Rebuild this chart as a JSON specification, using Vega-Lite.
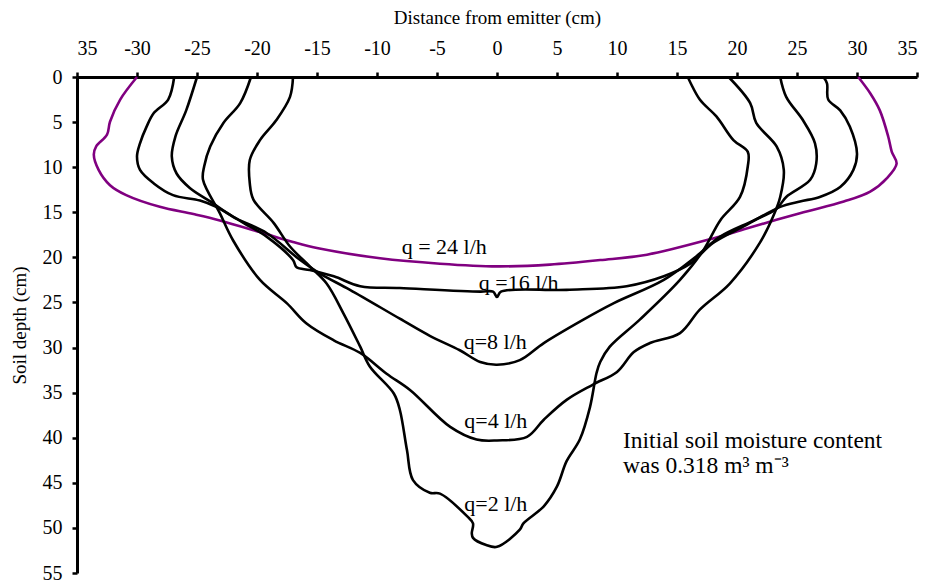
{
  "$schema": "https://vega.github.io/schema/vega-lite/v6.json",
  "width": 840,
  "height": 496,
  "autosize": {"type": "none"},
  "padding": {"left": 77, "top": 77, "right": 15, "bottom": 11},
  "background": "white",
  "config": {
    "view": {"stroke": null},
    "font": "Liberation Serif",
    "axis": {
      "labelFont": "Liberation Serif",
      "titleFont": "Liberation Serif",
      "labelColor": "black",
      "titleColor": "black",
      "domainColor": "black",
      "tickColor": "black",
      "grid": false,
      "titleFontWeight": "normal",
      "domainWidth": 3,
      "tickWidth": 2.5,
      "tickSize": 5
    }
  },
  "datasets": {
    "curves": [
      {"s": "q24", "i": 0, "x": -30.0, "y": 0},
      {"s": "q24", "i": 1, "x": -31.4, "y": 2.5},
      {"s": "q24", "i": 2, "x": -32.25, "y": 4.96},
      {"s": "q24", "i": 3, "x": -32.5, "y": 6.4},
      {"s": "q24", "i": 4, "x": -33.4, "y": 7.7},
      {"s": "q24", "i": 5, "x": -33.6, "y": 8.6},
      {"s": "q24", "i": 6, "x": -33.2, "y": 10.3},
      {"s": "q24", "i": 7, "x": -32.25, "y": 12.0},
      {"s": "q24", "i": 8, "x": -30.9, "y": 13.1},
      {"s": "q24", "i": 9, "x": -28.1, "y": 14.4},
      {"s": "q24", "i": 10, "x": -25.3, "y": 15.2},
      {"s": "q24", "i": 11, "x": -23.1, "y": 15.9},
      {"s": "q24", "i": 12, "x": -19.75, "y": 17.2},
      {"s": "q24", "i": 13, "x": -17.0, "y": 18.3},
      {"s": "q24", "i": 14, "x": -14.9, "y": 19.0},
      {"s": "q24", "i": 15, "x": -9.75, "y": 20.1},
      {"s": "q24", "i": 16, "x": -4.75, "y": 20.7},
      {"s": "q24", "i": 17, "x": 0, "y": 21.0},
      {"s": "q24", "i": 18, "x": 4.4, "y": 20.8},
      {"s": "q24", "i": 19, "x": 8.6, "y": 20.3},
      {"s": "q24", "i": 20, "x": 12.5, "y": 19.7},
      {"s": "q24", "i": 21, "x": 18.0, "y": 17.9},
      {"s": "q24", "i": 22, "x": 20.8, "y": 16.8},
      {"s": "q24", "i": 23, "x": 25.25, "y": 15.1},
      {"s": "q24", "i": 24, "x": 28.9, "y": 13.8},
      {"s": "q24", "i": 25, "x": 31.1, "y": 12.7},
      {"s": "q24", "i": 26, "x": 32.5, "y": 11.2},
      {"s": "q24", "i": 27, "x": 33.3, "y": 9.6},
      {"s": "q24", "i": 28, "x": 32.9, "y": 8.3},
      {"s": "q24", "i": 29, "x": 32.6, "y": 6.6},
      {"s": "q24", "i": 30, "x": 31.9, "y": 3.7},
      {"s": "q24", "i": 31, "x": 31.1, "y": 1.8},
      {"s": "q24", "i": 32, "x": 30.1, "y": 0},

      {"s": "q16", "i": 0, "x": -26.9, "y": 0},
      {"s": "q16", "i": 1, "x": -27.4, "y": 2.5},
      {"s": "q16", "i": 2, "x": -28.6, "y": 4.0},
      {"s": "q16", "i": 3, "x": -29.2, "y": 5.5},
      {"s": "q16", "i": 4, "x": -29.75, "y": 7.35},
      {"s": "q16", "i": 5, "x": -30.0, "y": 8.8},
      {"s": "q16", "i": 6, "x": -29.75, "y": 10.3},
      {"s": "q16", "i": 7, "x": -28.6, "y": 11.8},
      {"s": "q16", "i": 8, "x": -27.0, "y": 13.1},
      {"s": "q16", "i": 9, "x": -24.75, "y": 13.7},
      {"s": "q16", "i": 10, "x": -23.4, "y": 14.4},
      {"s": "q16", "i": 11, "x": -21.1, "y": 16.2},
      {"s": "q16", "i": 12, "x": -19.2, "y": 17.7},
      {"s": "q16", "i": 13, "x": -17.0, "y": 20.3},
      {"s": "q16", "i": 14, "x": -16.7, "y": 21.1},
      {"s": "q16", "i": 15, "x": -15.6, "y": 21.4},
      {"s": "q16", "i": 16, "x": -13.6, "y": 22.1},
      {"s": "q16", "i": 17, "x": -11.4, "y": 23.2},
      {"s": "q16", "i": 18, "x": -8.1, "y": 23.4},
      {"s": "q16", "i": 19, "x": -1.4, "y": 23.8},
      {"s": "q16", "i": 20, "x": -0.33, "y": 23.8},
      {"s": "q16", "i": 21, "x": 0, "y": 24.4},
      {"s": "q16", "i": 22, "x": 0.33, "y": 23.8},
      {"s": "q16", "i": 23, "x": 5.8, "y": 23.6},
      {"s": "q16", "i": 24, "x": 10.8, "y": 23.2},
      {"s": "q16", "i": 25, "x": 13.9, "y": 22.1},
      {"s": "q16", "i": 26, "x": 16.1, "y": 20.7},
      {"s": "q16", "i": 27, "x": 18.0, "y": 18.4},
      {"s": "q16", "i": 28, "x": 20.8, "y": 16.4},
      {"s": "q16", "i": 29, "x": 23.6, "y": 14.4},
      {"s": "q16", "i": 30, "x": 25.25, "y": 13.8},
      {"s": "q16", "i": 31, "x": 26.9, "y": 13.3},
      {"s": "q16", "i": 32, "x": 28.6, "y": 12.2},
      {"s": "q16", "i": 33, "x": 29.7, "y": 10.3},
      {"s": "q16", "i": 34, "x": 30.0, "y": 8.5},
      {"s": "q16", "i": 35, "x": 29.4, "y": 5.5},
      {"s": "q16", "i": 36, "x": 28.6, "y": 3.7},
      {"s": "q16", "i": 37, "x": 27.6, "y": 2.5},
      {"s": "q16", "i": 38, "x": 27.5, "y": 0.7},
      {"s": "q16", "i": 39, "x": 27.2, "y": 0},

      {"s": "q8", "i": 0, "x": -25.0, "y": 0},
      {"s": "q8", "i": 1, "x": -25.9, "y": 3.7},
      {"s": "q8", "i": 2, "x": -26.8, "y": 6.6},
      {"s": "q8", "i": 3, "x": -27.1, "y": 8.8},
      {"s": "q8", "i": 4, "x": -26.7, "y": 10.7},
      {"s": "q8", "i": 5, "x": -25.6, "y": 12.3},
      {"s": "q8", "i": 6, "x": -23.9, "y": 13.8},
      {"s": "q8", "i": 7, "x": -22.0, "y": 15.5},
      {"s": "q8", "i": 8, "x": -19.2, "y": 17.3},
      {"s": "q8", "i": 9, "x": -16.4, "y": 20.3},
      {"s": "q8", "i": 10, "x": -14.75, "y": 21.8},
      {"s": "q8", "i": 11, "x": -12.25, "y": 23.6},
      {"s": "q8", "i": 12, "x": -8.1, "y": 26.8},
      {"s": "q8", "i": 13, "x": -5.6, "y": 28.7},
      {"s": "q8", "i": 14, "x": -3.1, "y": 30.3},
      {"s": "q8", "i": 15, "x": -1.4, "y": 31.6},
      {"s": "q8", "i": 16, "x": 0, "y": 31.9},
      {"s": "q8", "i": 17, "x": 1.9, "y": 31.4},
      {"s": "q8", "i": 18, "x": 3.9, "y": 29.5},
      {"s": "q8", "i": 19, "x": 7.2, "y": 26.9},
      {"s": "q8", "i": 20, "x": 9.7, "y": 25.1},
      {"s": "q8", "i": 21, "x": 13.9, "y": 22.5},
      {"s": "q8", "i": 22, "x": 16.6, "y": 19.9},
      {"s": "q8", "i": 23, "x": 18.6, "y": 17.7},
      {"s": "q8", "i": 24, "x": 21.4, "y": 15.9},
      {"s": "q8", "i": 25, "x": 23.3, "y": 14.6},
      {"s": "q8", "i": 26, "x": 24.1, "y": 13.3},
      {"s": "q8", "i": 27, "x": 26.1, "y": 11.4},
      {"s": "q8", "i": 28, "x": 26.6, "y": 9.6},
      {"s": "q8", "i": 29, "x": 26.5, "y": 7.35},
      {"s": "q8", "i": 30, "x": 25.5, "y": 4.8},
      {"s": "q8", "i": 31, "x": 24.1, "y": 2.2},
      {"s": "q8", "i": 32, "x": 23.6, "y": 0},

      {"s": "q4", "i": 0, "x": -20.5, "y": 0},
      {"s": "q4", "i": 1, "x": -21.4, "y": 2.9},
      {"s": "q4", "i": 2, "x": -22.8, "y": 5.1},
      {"s": "q4", "i": 3, "x": -23.9, "y": 7.7},
      {"s": "q4", "i": 4, "x": -24.4, "y": 9.9},
      {"s": "q4", "i": 5, "x": -24.5, "y": 11.4},
      {"s": "q4", "i": 6, "x": -23.1, "y": 15.1},
      {"s": "q4", "i": 7, "x": -22.0, "y": 18.1},
      {"s": "q4", "i": 8, "x": -19.75, "y": 22.5},
      {"s": "q4", "i": 9, "x": -17.5, "y": 25.1},
      {"s": "q4", "i": 10, "x": -15.9, "y": 27.3},
      {"s": "q4", "i": 11, "x": -13.6, "y": 29.2},
      {"s": "q4", "i": 12, "x": -11.4, "y": 30.6},
      {"s": "q4", "i": 13, "x": -9.2, "y": 32.9},
      {"s": "q4", "i": 14, "x": -7.25, "y": 34.7},
      {"s": "q4", "i": 15, "x": -3.9, "y": 38.8},
      {"s": "q4", "i": 16, "x": -1.7, "y": 40.2},
      {"s": "q4", "i": 17, "x": 0, "y": 40.3},
      {"s": "q4", "i": 18, "x": 2.5, "y": 39.9},
      {"s": "q4", "i": 19, "x": 3.9, "y": 38.0},
      {"s": "q4", "i": 20, "x": 5.8, "y": 35.8},
      {"s": "q4", "i": 21, "x": 8.0, "y": 34.1},
      {"s": "q4", "i": 22, "x": 10.0, "y": 32.7},
      {"s": "q4", "i": 23, "x": 11.4, "y": 30.5},
      {"s": "q4", "i": 24, "x": 12.75, "y": 29.5},
      {"s": "q4", "i": 25, "x": 15.25, "y": 28.4},
      {"s": "q4", "i": 26, "x": 16.9, "y": 25.8},
      {"s": "q4", "i": 27, "x": 19.4, "y": 22.9},
      {"s": "q4", "i": 28, "x": 21.9, "y": 18.4},
      {"s": "q4", "i": 29, "x": 23.0, "y": 15.5},
      {"s": "q4", "i": 30, "x": 23.6, "y": 13.3},
      {"s": "q4", "i": 31, "x": 23.9, "y": 10.3},
      {"s": "q4", "i": 32, "x": 23.3, "y": 7.7},
      {"s": "q4", "i": 33, "x": 21.6, "y": 5.1},
      {"s": "q4", "i": 34, "x": 21.1, "y": 2.9},
      {"s": "q4", "i": 35, "x": 19.3, "y": 0},

      {"s": "q2", "i": 0, "x": -17.0, "y": 0},
      {"s": "q2", "i": 1, "x": -17.25, "y": 2.2},
      {"s": "q2", "i": 2, "x": -18.4, "y": 4.8},
      {"s": "q2", "i": 3, "x": -19.75, "y": 7.0},
      {"s": "q2", "i": 4, "x": -20.6, "y": 9.2},
      {"s": "q2", "i": 5, "x": -20.6, "y": 11.8},
      {"s": "q2", "i": 6, "x": -20.3, "y": 13.6},
      {"s": "q2", "i": 7, "x": -18.6, "y": 16.2},
      {"s": "q2", "i": 8, "x": -17.25, "y": 18.8},
      {"s": "q2", "i": 9, "x": -15.6, "y": 21.0},
      {"s": "q2", "i": 10, "x": -14.2, "y": 22.9},
      {"s": "q2", "i": 11, "x": -12.8, "y": 26.2},
      {"s": "q2", "i": 12, "x": -11.4, "y": 29.9},
      {"s": "q2", "i": 13, "x": -10.6, "y": 32.1},
      {"s": "q2", "i": 14, "x": -8.6, "y": 35.1},
      {"s": "q2", "i": 15, "x": -8.1, "y": 36.9},
      {"s": "q2", "i": 16, "x": -7.5, "y": 41.4},
      {"s": "q2", "i": 17, "x": -7.0, "y": 44.7},
      {"s": "q2", "i": 18, "x": -5.6, "y": 46.1},
      {"s": "q2", "i": 19, "x": -4.75, "y": 46.2},
      {"s": "q2", "i": 20, "x": -2.5, "y": 48.7},
      {"s": "q2", "i": 21, "x": -2.0, "y": 49.5},
      {"s": "q2", "i": 22, "x": -2.1, "y": 50.6},
      {"s": "q2", "i": 23, "x": -2.0, "y": 51.1},
      {"s": "q2", "i": 24, "x": -0.9, "y": 51.9},
      {"s": "q2", "i": 25, "x": 0, "y": 52.1},
      {"s": "q2", "i": 26, "x": 1.9, "y": 50.2},
      {"s": "q2", "i": 27, "x": 2.2, "y": 49.5},
      {"s": "q2", "i": 28, "x": 3.9, "y": 47.6},
      {"s": "q2", "i": 29, "x": 5.0, "y": 45.4},
      {"s": "q2", "i": 30, "x": 5.8, "y": 42.6},
      {"s": "q2", "i": 31, "x": 6.9, "y": 40.2},
      {"s": "q2", "i": 32, "x": 7.75, "y": 36.6},
      {"s": "q2", "i": 33, "x": 8.3, "y": 32.8},
      {"s": "q2", "i": 34, "x": 8.6, "y": 31.6},
      {"s": "q2", "i": 35, "x": 9.4, "y": 29.9},
      {"s": "q2", "i": 36, "x": 11.9, "y": 26.9},
      {"s": "q2", "i": 37, "x": 15.25, "y": 22.5},
      {"s": "q2", "i": 38, "x": 17.2, "y": 19.2},
      {"s": "q2", "i": 39, "x": 18.6, "y": 15.9},
      {"s": "q2", "i": 40, "x": 20.25, "y": 13.3},
      {"s": "q2", "i": 41, "x": 20.9, "y": 9.9},
      {"s": "q2", "i": 42, "x": 20.9, "y": 8.3},
      {"s": "q2", "i": 43, "x": 19.7, "y": 7.0},
      {"s": "q2", "i": 44, "x": 18.3, "y": 4.4},
      {"s": "q2", "i": 45, "x": 16.9, "y": 2.5},
      {"s": "q2", "i": 46, "x": 15.9, "y": 0}
    ],
    "labels": [
      {"t": "q = 24 l/h", "x": -4.4, "y": 18.8},
      {"t": "q =16 l/h", "x": 1.8, "y": 22.8},
      {"t": "q=8 l/h", "x": -0.15, "y": 29.35},
      {"t": "q=4 l/h", "x": -0.1, "y": 38.2},
      {"t": "q=2 l/h", "x": -0.1, "y": 47.3}
    ],
    "notes": [
      {"t": "Initial soil moisture content", "x": 10.5, "y": 40.35},
      {"t": "was 0.318 m³ m⁻³", "x": 10.5, "y": 43.1}
    ]
  },
  "layer": [
    {
      "data": {"name": "curves"},
      "mark": {"type": "line", "interpolate": "catmull-rom", "strokeWidth": 2.6},
      "encoding": {
        "x": {
          "field": "x",
          "type": "quantitative",
          "scale": {"domain": [-35, 35], "nice": false, "zero": false},
          "axis": {
            "orient": "top",
            "values": [-35, -30, -25, -20, -15, -10, -5, 0, 5, 10, 15, 20, 25, 30, 35],
            "labelExpr": "datum.value == -35 ? '35' : (datum.value < 0 ? '-' + abs(datum.value) : '' + datum.value)",
            "labelFontSize": 20,
            "labelPadding": 14,
            "title": "Distance from emitter (cm)",
            "titleFontSize": 19,
            "titlePadding": 11
          }
        },
        "y": {
          "field": "y",
          "type": "quantitative",
          "scale": {"domain": [0, 55], "reverse": true, "nice": false, "zero": false},
          "axis": {
            "values": [0, 5, 10, 15, 20, 25, 30, 35, 40, 45, 50, 55],
            "labelFontSize": 20,
            "labelPadding": 10,
            "title": "Soil depth (cm)",
            "titleFontSize": 19,
            "titlePadding": 13
          }
        },
        "order": {"field": "i", "type": "quantitative"},
        "color": {
          "field": "s",
          "type": "nominal",
          "scale": {"domain": ["q2", "q4", "q8", "q16", "q24"], "range": ["black", "black", "black", "black", "#800080"]},
          "legend": null
        }
      }
    },
    {
      "data": {"name": "labels"},
      "mark": {"type": "text", "font": "Liberation Serif", "fontSize": 22, "align": "center", "baseline": "middle", "color": "black"},
      "encoding": {
        "x": {"field": "x", "type": "quantitative"},
        "y": {"field": "y", "type": "quantitative"},
        "text": {"field": "t"}
      }
    },
    {
      "data": {"name": "notes"},
      "mark": {"type": "text", "font": "Liberation Serif", "fontSize": 23.5, "align": "left", "baseline": "middle", "color": "black"},
      "encoding": {
        "x": {"field": "x", "type": "quantitative"},
        "y": {"field": "y", "type": "quantitative"},
        "text": {"field": "t"}
      }
    }
  ]
}
